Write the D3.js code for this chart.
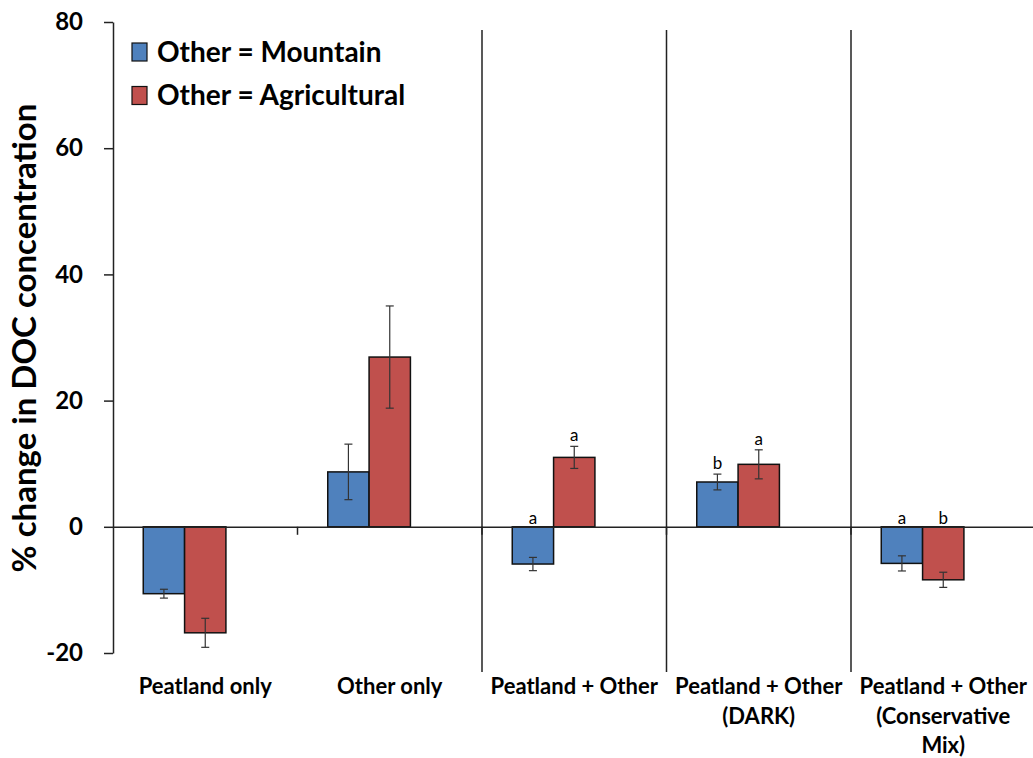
<!DOCTYPE html>
<html>
<head>
<meta charset="utf-8">
<script src="https://cdn.jsdelivr.net/npm/d3@7"></script>
<style>
  html, body { margin: 0; padding: 0; background: #fff; }
  svg { display: block; }
  text { font-family: Lato, "Open Sans", "Liberation Sans", sans-serif; }
</style>
</head>
<body>
<svg id="chart" width="1033" height="758"></svg>
<script>
// Category labels (multi-line labels split on "\n")
const categories = [
  "Peatland only",
  "Other only",
  "Peatland + Other",
  "Peatland + Other\n(DARK)",
  "Peatland + Other\n(Conservative\nMix)"
];
const seriesNames = ["Other = Mountain", "Other = Agricultural"];
const mountain = [-10.6, 8.7, -5.9, 7.1, -5.8];
const mountainErr = [0.7, 4.4, 1.05, 1.25, 1.2];
const agricultural = [-16.8, 26.9, 11.0, 9.9, -8.4];
const agriculturalErr = [2.3, 8.1, 1.75, 2.3, 1.2];
const mountainLetters = ["", "", "a", "b", "a"];
const agriculturalLetters = ["", "", "a", "a", "b"];
const yTicks = [-20, 0, 20, 40, 60, 80];
const colors = ["#4F81BD", "#C0504D"];

const svg = d3.select("#chart");
const plotLeft = 113, plotRight = 1035.5, plotTop = 22, plotBottom = 653;

const y = d3.scaleLinear().domain([-20, 80]).range([plotBottom, plotTop]);
const x = d3.scaleBand().domain(categories).range([plotLeft, plotRight]).paddingInner(0).paddingOuter(0);
// three slots per category; the third slot stays empty
const xs = d3.scaleBand().domain([0, 1, 2]).range([0, x.bandwidth()]).paddingInner(0).paddingOuter(0.732);

const series = [
  { values: mountain, err: mountainErr, letters: mountainLetters },
  { values: agricultural, err: agriculturalErr, letters: agriculturalLetters }
];

// group separators
const sepCats = categories.slice(2, 5);
svg.selectAll("line.sep").data(sepCats).join("line")
  .attr("class", "sep")
  .attr("x1", d => x(d)).attr("x2", d => x(d))
  .attr("y1", 30).attr("y2", 672)
  .attr("stroke", "#222").attr("stroke-width", 1.5);

// bars
series.forEach((s, si) => {
  const g = svg.append("g");
  g.selectAll("rect").data(categories).join("rect")
    .attr("x", d => x(d) + xs(si))
    .attr("width", xs.bandwidth())
    .attr("y", (d, i) => y(Math.max(0, s.values[i])))
    .attr("height", (d, i) => Math.abs(y(s.values[i]) - y(0)))
    .attr("fill", colors[si])
    .attr("stroke", "#111").attr("stroke-width", 1.5);
});

// x axis line at zero
const xAxis = d3.axisBottom(x).tickValues(categories.slice(1)).tickSize(8).tickFormat("").tickSizeOuter(0);
const xg = svg.append("g").attr("transform", `translate(0,${y(0)})`).call(xAxis);
xg.selectAll(".tick line").attr("transform", `translate(${-x.bandwidth() / 2},0)`).attr("stroke", "#222").attr("stroke-width", 1.5);
xg.select(".domain").attr("stroke", "#222").attr("stroke-width", 1.5);

// error bars
series.forEach((s, si) => {
  const g = svg.append("g").attr("stroke", "#333").attr("stroke-width", 1.2);
  categories.forEach((c, i) => {
    const cx = x(c) + xs(si) + xs.bandwidth() / 2;
    const hi = y(s.values[i] + s.err[i]), lo = y(s.values[i] - s.err[i]);
    g.append("line").attr("x1", cx).attr("x2", cx).attr("y1", hi).attr("y2", lo);
    g.append("line").attr("x1", cx - 4).attr("x2", cx + 4).attr("y1", hi).attr("y2", hi);
    g.append("line").attr("x1", cx - 4).attr("x2", cx + 4).attr("y1", lo).attr("y2", lo);
  });
});

// significance letters
series.forEach((s, si) => {
  svg.append("g").selectAll("text").data(categories).join("text")
    .attr("x", d => x(d) + xs(si) + xs.bandwidth() / 2)
    .attr("y", (d, i) => s.values[i] > 0 ? y(s.values[i] + s.err[i]) - 5 : y(0) - 3)
    .attr("text-anchor", "middle")
    .attr("font-size", 17)
    .attr("fill", "#000")
    .text((d, i) => s.letters[i]);
});

// y axis
const yAxis = d3.axisLeft(y).tickValues(yTicks).tickSize(9).tickPadding(21).tickSizeOuter(0)
  .tickFormat(d => String(d));
const yg = svg.append("g").attr("transform", `translate(${plotLeft},0)`).call(yAxis);
yg.select(".domain").attr("stroke", "#222").attr("stroke-width", 1.5);
yg.selectAll(".tick line").attr("stroke", "#222").attr("stroke-width", 1.5);
yg.selectAll(".tick text").attr("font-size", 24).attr("font-weight", "bold").attr("fill", "#000")
  .style("font-family", "Lato, sans-serif");

// y title
svg.append("text")
  .attr("transform", `translate(36,338) rotate(-90)`)
  .attr("text-anchor", "middle")
  .attr("font-size", 33).attr("font-weight", "bold")
  .text("% change in DOC concentration");

// category labels
categories.forEach(c => {
  const lines = c.split("\n");
  const t = svg.append("text")
    .attr("x", x(c) + x.bandwidth() / 2)
    .attr("y", 694)
    .attr("text-anchor", "middle")
    .attr("font-size", 22).attr("font-weight", "bold");
  lines.forEach((l, li) => {
    t.append("tspan").attr("x", x(c) + x.bandwidth() / 2).attr("dy", li === 0 ? 0 : 29.5).text(l);
  });
});

// legend
const legend = svg.append("g");
seriesNames.forEach((n, i) => {
  const ly = 43 + i * 43.5;
  legend.append("rect").attr("x", 132).attr("y", ly).attr("width", 15).attr("height", 18)
    .attr("fill", colors[i]).attr("stroke", "#111").attr("stroke-width", 1.2);
  legend.append("text").attr("x", 157).attr("y", ly + 18.5)
    .attr("font-size", 28).attr("font-weight", "bold").text(n);
});
</script>
</body>
</html>
